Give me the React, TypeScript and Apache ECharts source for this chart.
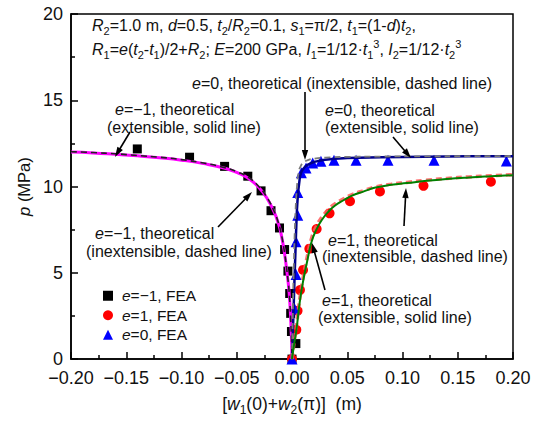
import React, { useEffect, useRef } from 'react';
import * as echarts from 'echarts';

const FONT = '"Liberation Sans", Arial, Helvetica, sans-serif';

// ---- axis ticks ----
const X_MIN = -0.2;
const X_MAX = 0.2;
const X_STEP = 0.05;
const Y_MIN = 0;
const Y_MAX = 20;
const Y_STEP = 5;

// ---- e = -1 theoretical ----
const m1X = [-0.2, -0.18, -0.16, -0.14, -0.12, -0.1, -0.08, -0.06, -0.05, -0.04, -0.03, -0.022, -0.016, -0.0128, -0.01, -0.0067, -0.0045, -0.003, -0.002, -0.0012, -0.0005, 0];
const m1ExtP = [12.0, 11.95, 11.87, 11.78, 11.67, 11.53, 11.33, 11.05, 10.82, 10.5, 9.95, 9.25, 8.5, 7.95, 7.3, 6.1, 5.0, 4.15, 3.3, 2.3, 1.2, 0];
const m1InextP = [12.02, 11.97, 11.9, 11.8, 11.7, 11.56, 11.36, 11.08, 10.86, 10.55, 10.0, 9.3, 8.55, 8.0, 7.35, 6.15, 5.05, 4.2, 3.35, 2.35, 1.25, 0];

// ---- e = 0 theoretical ----
const z0ExtX = [0, 0.0008, 0.0015, 0.0022, 0.003, 0.004, 0.005, 0.0065, 0.0085, 0.012, 0.016, 0.02, 0.03, 0.05, 0.08, 0.12, 0.16, 0.2];
const z0ExtP = [0, 1.6, 3.0, 4.5, 6.0, 7.9, 9.2, 10.2, 10.85, 11.15, 11.32, 11.42, 11.55, 11.65, 11.7, 11.73, 11.75, 11.76];
const z0InextX = [0, 0.0005, 0.001, 0.0018, 0.0025, 0.0035, 0.0045, 0.006, 0.008, 0.011, 0.015, 0.02, 0.03, 0.05, 0.08, 0.12, 0.16, 0.2];
const z0InextP = [0, 1.8, 3.6, 5.8, 7.4, 9.0, 10.0, 10.8, 11.2, 11.42, 11.55, 11.62, 11.68, 11.72, 11.74, 11.75, 11.76, 11.77];

// ---- e = 1 theoretical ----
const p1X = [0, 0.002, 0.004, 0.007, 0.01, 0.0135, 0.0177, 0.022, 0.0268, 0.033, 0.039, 0.047, 0.0543, 0.065, 0.0756, 0.09, 0.104, 0.12, 0.14, 0.16, 0.18, 0.2];
const p1ExtP = [0, 0.9, 1.7, 3.3, 4.5, 5.6, 6.8, 7.5, 8.05, 8.55, 8.9, 9.22, 9.47, 9.72, 9.94, 10.1, 10.2, 10.32, 10.44, 10.53, 10.6, 10.66];
const p1InextP = [0, 1.0, 1.9, 3.5, 4.7, 5.85, 7.0, 7.7, 8.2, 8.68, 9.0, 9.3, 9.53, 9.77, 9.98, 10.14, 10.24, 10.36, 10.47, 10.56, 10.63, 10.69];

// ---- FEA ----
const feaM1X = [-0.14, -0.0927, -0.061, -0.04, -0.028, -0.019, -0.0113, -0.0067, -0.0037, -0.0021, -0.0012, -0.0005, 0.0035, 0];
const feaM1P = [12.18, 11.7, 11.17, 10.6, 9.75, 8.6, 7.6, 6.35, 5.1, 3.8, 2.65, 1.6, 0.9, 0];
const feaP1X = [0, 0.0039, 0.005, 0.0072, 0.01, 0.0157, 0.0223, 0.034, 0.0525, 0.0796, 0.119, 0.18];
const feaP1P = [0, 1.7, 2.8, 4.0, 5.17, 6.4, 7.54, 8.45, 9.15, 9.72, 10.04, 10.28];
const feaZ0X = [0, 0.0025, 0.0037, 0.0037, 0.0052, 0.0052, 0.0085, 0.0127, 0.0187, 0.0262, 0.038, 0.058, 0.0869, 0.1285, 0.194];
const feaZ0P = [0, 2.9, 4.9, 6.8, 8.33, 9.66, 10.8, 11.08, 11.36, 11.46, 11.52, 11.53, 11.53, 11.53, 11.48];

const LEG_M1 = 'e=\u22121, FEA';
const LEG_P1 = 'e=1, FEA';
const LEG_Z0 = 'e=0, FEA';

const pairs = (xs: number[], ys: number[]) => xs.map((x, i) => [x, ys[i]]);

const TXT = '#111';
const richLabel = {
  i: { fontStyle: 'italic', fontSize: 16, fontFamily: FONT, fill: TXT, lineHeight: 20 },
};
const richInfo = {
  i: { fontStyle: 'italic', fontSize: 16, fontFamily: FONT, fill: TXT, lineHeight: 22 },
  s: { fontSize: 11, fontFamily: FONT, fill: TXT, verticalAlign: 'bottom', lineHeight: 14 },
  p: { fontSize: 11, fontFamily: FONT, fill: TXT, verticalAlign: 'top', lineHeight: 14 },
};

function label(x: number, y: number, text: string) {
  return {
    type: 'text',
    x,
    y,
    z: 100,
    style: {
      text,
      rich: richLabel,
      fontSize: 16,
      fontFamily: FONT,
      fill: TXT,
      lineHeight: 20,
      align: 'left',
      verticalAlign: 'middle',
    },
  };
}

function info(x: number, y: number, text: string) {
  return {
    type: 'text',
    x,
    y,
    z: 100,
    style: {
      text,
      rich: richInfo,
      fontSize: 16,
      fontFamily: FONT,
      fill: TXT,
      lineHeight: 22,
      align: 'left',
      verticalAlign: 'middle',
    },
  };
}

function arrow(x1: number, y1: number, x2: number, y2: number) {
  const dx = x2 - x1;
  const dy = y2 - y1;
  const len = Math.hypot(dx, dy);
  const ux = dx / len;
  const uy = dy / len;
  const hl = 10;
  const hw = 3.2;
  const bx = x2 - ux * hl;
  const by = y2 - uy * hl;
  return [
    { type: 'line', z: 100, shape: { x1, y1, x2: bx + ux * 1, y2: by + uy * 1 }, style: { stroke: '#000', lineWidth: 1.6 } },
    {
      type: 'polygon',
      z: 100,
      shape: { points: [[x2, y2], [bx - uy * hw, by + ux * hw], [bx + uy * hw, by - ux * hw]] },
      style: { fill: '#000' },
    },
  ];
}

const tickFmt = (v: number) => {
  if (Math.abs(v) < 1e-9) return '0.00';
  return (v < 0 ? '\u2212' : '') + Math.abs(v).toFixed(2);
};

export default function App() {
  const ref = useRef<HTMLDivElement>(null);

  useEffect(() => {
    document.body.style.margin = '0';
    const chart = echarts.init(ref.current!, null, { renderer: 'svg' });

    const axisLine = { show: true, onZero: false, lineStyle: { color: '#000', width: 1.5 } };
    const axisTick = { show: true, inside: true, length: 7, lineStyle: { color: '#000', width: 1.5 } };
    const minorTick = { show: true, splitNumber: 2, length: 4, lineStyle: { color: '#000', width: 1.5 } };

    const lineBase = { type: 'line', showSymbol: false, symbol: 'none', smooth: true, silent: true };

    const option: any = {
      animation: false,
      backgroundColor: '#fff',
      grid: { left: 71, right: 22, top: 14, bottom: 55, show: true, borderColor: '#000', borderWidth: 1.5 },
      xAxis: {
        type: 'value',
        min: X_MIN,
        max: X_MAX,
        interval: X_STEP,
        axisLine,
        axisTick,
        minorTick,
        splitLine: { show: false },
        axisLabel: { fontSize: 18, color: '#111', fontFamily: FONT, margin: 10, formatter: tickFmt },
        name: '[{i|w}{s|1}(0)+{i|w}{s|2}(\u03c0)]  (m)',
        nameLocation: 'middle',
        nameGap: 27,
        nameTextStyle: {
          fontSize: 17.5,
          color: '#111',
          fontFamily: FONT,
          lineHeight: 24,
          rich: {
            i: { fontStyle: 'italic', fontSize: 17.5, fontFamily: FONT, color: '#111', lineHeight: 24 },
            s: { fontSize: 12, fontFamily: FONT, color: '#111', verticalAlign: 'bottom', lineHeight: 15 },
          },
        },
      },
      yAxis: {
        type: 'value',
        min: Y_MIN,
        max: Y_MAX,
        interval: Y_STEP,
        axisLine,
        axisTick,
        minorTick,
        splitLine: { show: false },
        axisLabel: { fontSize: 18, color: '#111', fontFamily: FONT, margin: 8 },
        name: '{i|p} (MPa)',
        nameLocation: 'middle',
        nameRotate: 90,
        nameGap: 33,
        nameTextStyle: {
          fontSize: 16.5,
          color: '#111',
          fontFamily: FONT,
          rich: { i: { fontStyle: 'italic', fontSize: 16.5, fontFamily: FONT, color: '#111' } },
        },
      },
      legend: {
        orient: 'vertical',
        left: 98,
        top: 281,
        itemWidth: 10,
        itemHeight: 10,
        itemGap: 0,
        selectedMode: false,
        data: [
          { name: LEG_M1, icon: 'rect' },
          { name: LEG_P1, icon: 'circle' },
          { name: LEG_Z0, icon: 'triangle' },
        ],
        formatter: (n: string) => n.replace(/^e/, '{i|e}'),
        textStyle: {
          fontSize: 15.5,
          color: '#111',
          fontFamily: FONT,
          lineHeight: 19.5,
          padding: [0, 0, 0, 4],
          rich: { i: { fontStyle: 'italic', fontSize: 15.5, fontFamily: FONT, color: '#111', lineHeight: 19.5 } },
        },
      },
      series: [
        { name: LEG_M1, type: 'scatter', symbol: 'rect', symbolSize: 9, itemStyle: { color: '#000', opacity: 1 }, data: pairs(feaM1X, feaM1P), z: 3 },
        { name: LEG_P1, type: 'scatter', symbol: 'circle', symbolSize: 10, itemStyle: { color: '#ff0000', opacity: 1 }, data: pairs(feaP1X, feaP1P), z: 3 },
        { name: LEG_Z0, type: 'scatter', symbol: 'triangle', symbolSize: 11, itemStyle: { color: '#0000ff', opacity: 1 }, data: pairs(feaZ0X, feaZ0P), z: 3 },
        { ...lineBase, name: 'm1ext', data: pairs(m1X, m1ExtP), lineStyle: { color: '#ff00ff', width: 3 }, z: 4 },
        { ...lineBase, name: 'm1inext', data: pairs(m1X, m1InextP), lineStyle: { color: '#222', width: 1.6, type: [6, 4] }, z: 5 },
        { ...lineBase, name: 'z0ext', data: pairs(z0ExtX, z0ExtP), lineStyle: { color: '#00008b', width: 2.5 }, z: 4 },
        { ...lineBase, name: 'z0inext', data: pairs(z0InextX, z0InextP), lineStyle: { color: '#7a7a7a', width: 1.8, type: [6, 4] }, z: 5 },
        { ...lineBase, name: 'p1inext', data: pairs(p1X, p1InextP), lineStyle: { color: '#ff5a5a', width: 3.5, type: [6, 4], opacity: 0.85 }, z: 4 },
        { ...lineBase, name: 'p1ext', data: pairs(p1X, p1ExtP), lineStyle: { color: '#008000', width: 2 }, z: 5 },
      ],
      graphic: [
        info(92, 25, '{i|R}{s|2}=1.0 m, {i|d}=0.5, {i|t}{s|2}/{i|R}{s|2}=0.1, {i|s}{s|1}=\u03c0/2, {i|t}{s|1}=(1-{i|d}){i|t}{s|2},'),
        info(92, 49, '{i|R}{s|1}={i|e}({i|t}{s|2}-{i|t}{s|1})/2+{i|R}{s|2}; {i|E}=200 GPa, {i|I}{s|1}=1/12\u00b7{i|t}{s|1}{p|3}, {i|I}{s|2}=1/12\u00b7{i|t}{s|2}{p|3}'),
        label(115, 109, '{i|e}=\u22121, theoretical'),
        label(107, 127, '(extensible, solid line)'),
        label(192, 83, '{i|e}=0, theoretical (inextensible, dashed line)'),
        label(325, 110, '{i|e}=0, theoretical'),
        label(325, 127, '(extensible, solid line)'),
        label(95, 233, '{i|e}=\u22121, theoretical'),
        label(86, 251, '(inextensible, dashed line)'),
        label(328, 240, '{i|e}=1, theoretical'),
        label(322, 256, '(inextensible, dashed line)'),
        label(322, 300, '{i|e}=1, theoretical'),
        label(318, 317, '(extensible, solid line)'),
        ...arrow(130, 132, 115, 157),
        ...arrow(305, 92, 305, 160),
        ...arrow(393, 137, 411, 158),
        ...arrow(218, 227, 252, 192),
        ...arrow(404, 226, 406, 188),
        ...arrow(325, 290, 312, 243),
      ],
    };

    chart.setOption(option);
    return () => chart.dispose();
  }, []);

  return <div ref={ref} style={{ width: 535, height: 421 }} />;
}
